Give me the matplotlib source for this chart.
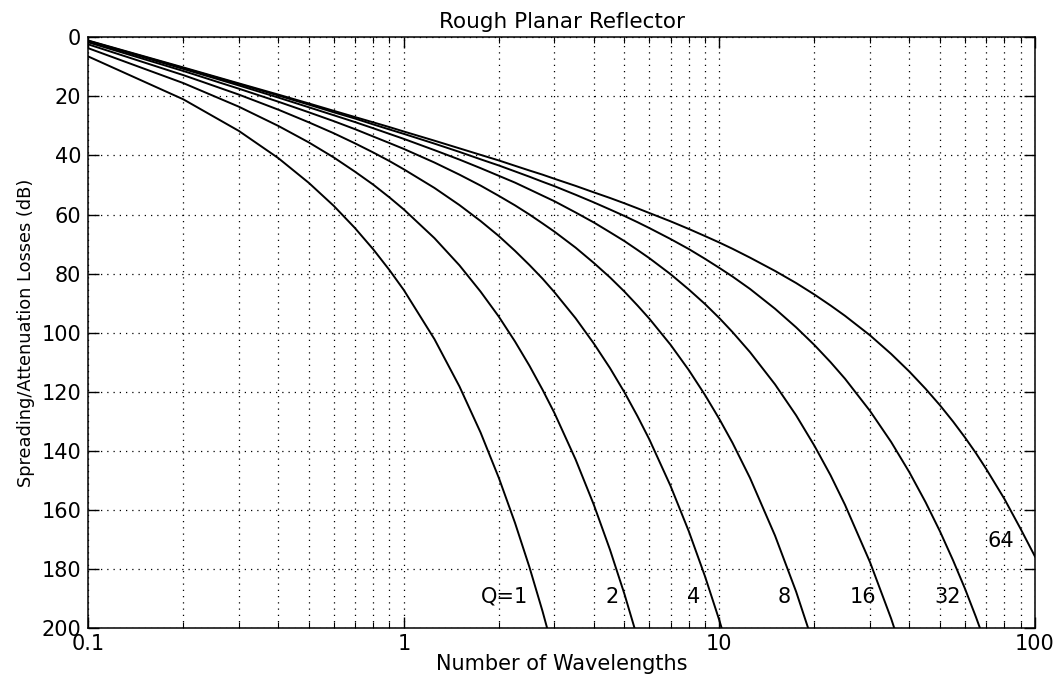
import matplotlib
matplotlib.use("Agg")
import matplotlib.pyplot as plt
from matplotlib.ticker import LogLocator, FixedLocator, NullFormatter, FixedFormatter

# ---------------- data ----------------
wavelengths = [0.1, 0.2, 0.3, 0.4, 0.5, 0.6, 0.7, 0.8, 0.9, 1.0,
               1.25, 1.5, 1.75, 2.0, 2.25, 2.5, 2.75, 3.0,
               3.5, 4, 4.5, 5, 5.5, 6, 7, 8, 9, 10, 11,
               12.5, 15, 17.5, 20, 22.5, 25, 30, 35, 40,
               45, 50, 55, 60, 65, 70, 80, 90, 100]

loss_q1 = [6.5, 21.0, 31.7, 40.9, 49.3, 57.1, 64.6, 71.8, 78.8, 85.6,
           102.2, 118.2, 133.8, 149.2, 164.4, 179.4, 194.3, 209.1]
loss_q2 = [3.7, 15.5, 23.5, 30.0, 35.6, 40.7, 45.5, 49.9, 54.2, 58.3,
           68.0, 77.2, 86.1, 94.6, 103.0, 111.2, 119.3, 127.2,
           142.9, 158.3, 173.5, 188.5, 203.4]
loss_q4 = [2.4, 12.8, 19.4, 24.5, 28.8, 32.5, 35.9, 39.0, 41.9, 44.7,
           51.0, 56.8, 62.2, 67.3, 72.3, 77.1, 81.7, 86.3,
           95.1, 103.7, 112.0, 120.2, 128.3, 136.2, 151.9, 167.3, 182.5, 197.5, 212.4]
loss_q8 = [1.7, 11.4, 17.4, 21.8, 25.4, 28.4, 31.1, 33.6, 35.8, 37.8,
           42.4, 46.5, 50.2, 53.7, 56.9, 60.0, 63.0, 65.8,
           71.2, 76.4, 81.3, 86.1, 90.8, 95.3, 104.1, 112.7, 121.1, 129.3, 137.3,
           149.2, 168.7, 187.7, 206.5]
loss_q16 = [1.3, 10.7, 16.3, 20.4, 23.7, 26.4, 28.7, 30.8, 32.7, 34.4,
            38.2, 41.4, 44.3, 46.9, 49.2, 51.5, 53.6, 55.5,
            59.3, 62.7, 66.0, 69.0, 72.0, 74.8, 80.2, 85.4, 90.3, 95.1, 99.8,
            106.6, 117.5, 128.0, 138.3, 148.3, 158.3, 177.7, 196.8, 215.6]
loss_q32 = [1.2, 10.4, 15.8, 19.7, 22.8, 25.4, 27.5, 29.5, 31.2, 32.7,
            36.0, 38.8, 41.3, 43.4, 45.4, 47.2, 48.9, 50.4,
            53.3, 55.9, 58.3, 60.5, 62.6, 64.6, 68.3, 71.7, 75.0, 78.1, 81.0,
            85.2, 91.9, 98.2, 104.2, 110.0, 115.6, 126.5, 137.0, 147.3,
            157.4, 167.3, 177.1, 186.7, 196.3, 205.8]
loss_q64 = [1.1, 10.2, 15.6, 19.4, 22.4, 24.9, 27.0, 28.8, 30.4, 31.9,
            35.0, 37.6, 39.8, 41.7, 43.5, 45.1, 46.5, 47.9,
            50.3, 52.5, 54.4, 56.2, 57.9, 59.5, 62.3, 64.9, 67.3, 69.5, 71.6,
            74.6, 79.1, 83.2, 87.1, 90.8, 94.3, 100.9, 107.2, 113.2,
            119.0, 124.6, 130.1, 135.5, 140.8, 146.1, 156.3, 166.4, 175.8]

curve_labels = ["Q=1", "2", "4", "8", "16", "32", "64"]
x_tick_values = [0.1, 1, 10, 100]
x_tick_labels = ["0.1", "1", "10", "100"]
y_tick_values = [0, 20, 40, 60, 80, 100, 120, 140, 160, 180, 200]

series = [loss_q1, loss_q2, loss_q4, loss_q8, loss_q16, loss_q32, loss_q64]

# ---------------- figure ----------------
plt.rcParams['font.family'] = ['DejaVu Sans']

W, H = 1061, 681
fig = plt.figure(figsize=(W / 100, H / 100), dpi=100)
left, right, top, bottom = 88.3, 1035.0, 37.3, 628.0
ax = fig.add_axes([left / W, 1 - bottom / H, (right - left) / W, (bottom - top) / H])

for ys in series:
    ax.plot(wavelengths[:len(ys)], ys, color='black', lw=1.4, zorder=3,
            solid_joinstyle='round')

ax.set_xscale('log')
ax.set_xlim(0.1, 100)
ax.set_ylim(200, 0)

ax.xaxis.set_major_locator(FixedLocator(x_tick_values))
ax.xaxis.set_major_formatter(FixedFormatter(x_tick_labels))
ax.xaxis.set_minor_locator(LogLocator(base=10, subs=[2, 3, 4, 5, 6, 7, 8, 9]))
ax.xaxis.set_minor_formatter(NullFormatter())
ax.set_yticks(y_tick_values)

grid_style = dict(color='black', linestyle=(0, (1, 4)), linewidth=0.9)
ax.grid(True, which='major', axis='both', **grid_style)
ax.grid(True, which='minor', axis='x', **grid_style)
ax.set_axisbelow(True)

ax.tick_params(which='major', direction='in', length=8, width=1.0,
               top=True, right=True, labelsize=15, pad=5, colors='black')
ax.tick_params(which='minor', direction='in', length=4, width=0.8,
               top=True, right=True)
ax.tick_params(axis='x', which='major', pad=4.5)

for s in ax.spines.values():
    s.set_linewidth(1.1)
    s.set_color('black')

ax.set_title("Rough Planar Reflector", fontsize=15.5, pad=7)
ax.set_xlabel("Number of Wavelengths", fontsize=15, labelpad=0)
ax.set_ylabel("Spreading/Attenuation Losses (dB)", fontsize=12.8, labelpad=5)

label_positions = [(2.09, 189.5), (4.56, 189.5), (8.29, 189.5), (16.0, 189.5),
                   (28.6, 189.5), (53.0, 189.5), (78.2, 170.5)]
for txt, (lx, ly) in zip(curve_labels, label_positions):
    ax.text(lx, ly, txt, fontsize=15, ha='center', va='center', zorder=4)

fig.savefig("out.png", dpi=100)
